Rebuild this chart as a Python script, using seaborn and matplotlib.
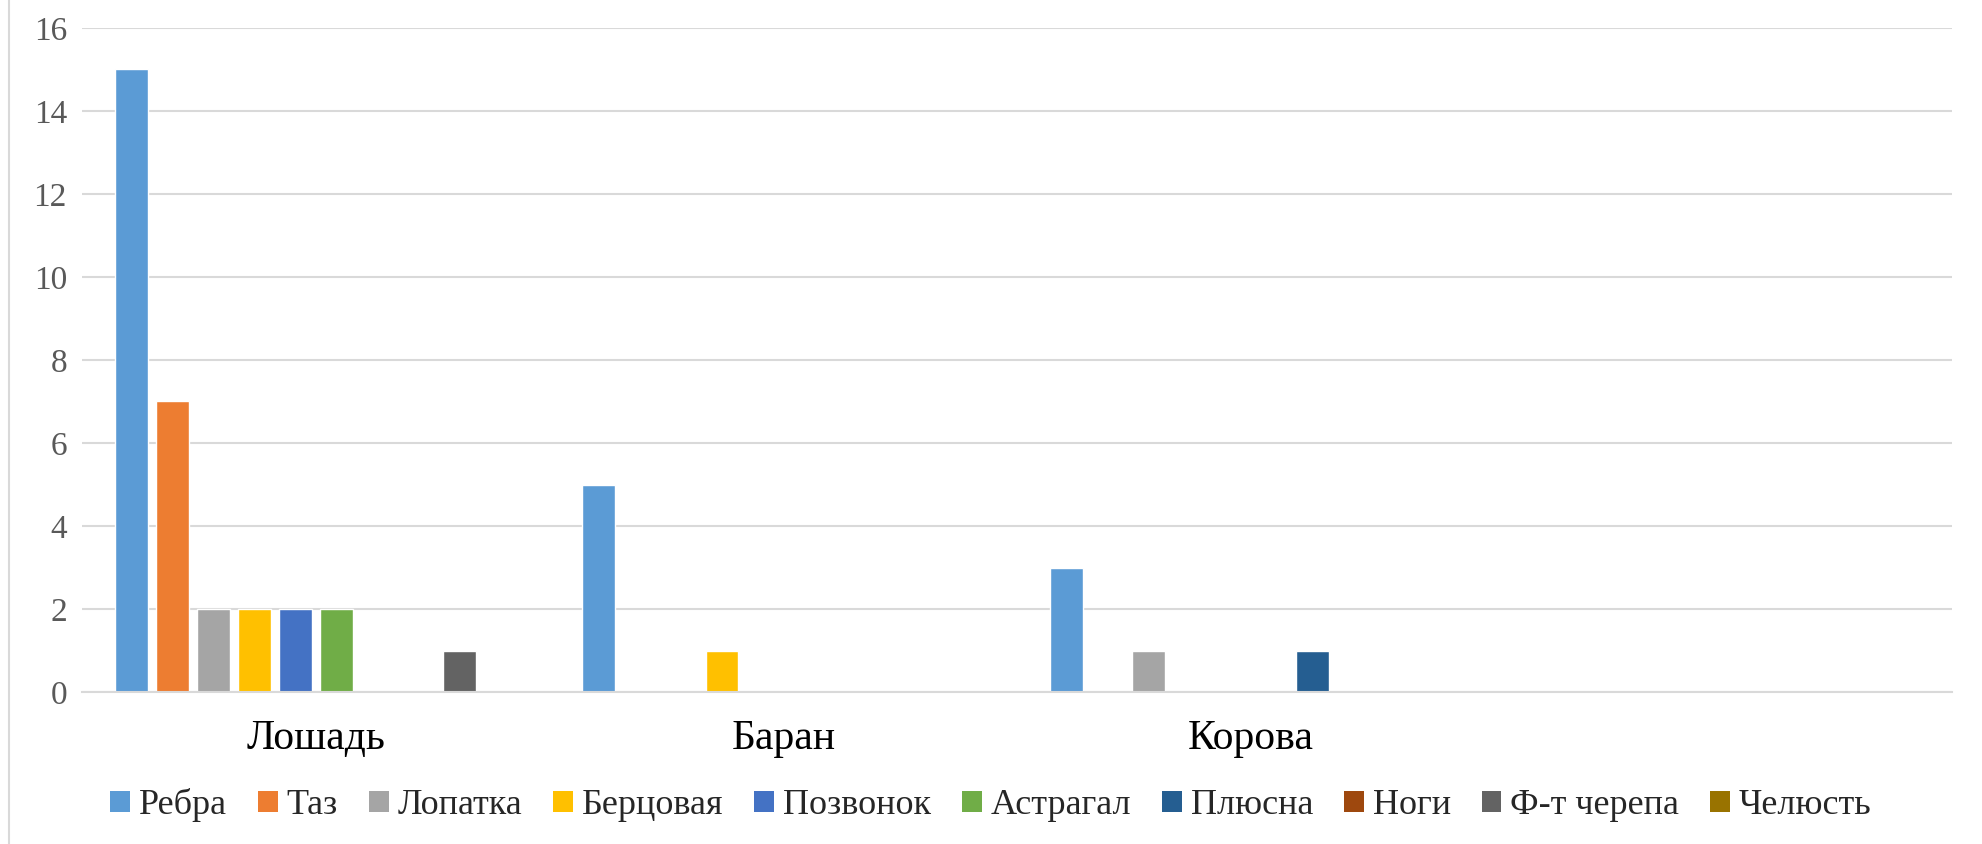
import matplotlib
matplotlib.use("Agg")
import matplotlib.pyplot as plt
from matplotlib.lines import Line2D
from matplotlib.patches import Patch
from matplotlib import font_manager
from matplotlib.font_manager import FontProperties
import seaborn as sns
import pandas as pd

categories = ["Лошадь", "Баран", "Корова", ""]
series = ["Ребра", "Таз", "Лопатка", "Берцовая", "Позвонок", "Астрагал",
          "Плюсна", "Ноги", "Ф-т черепа", "Челюсть"]
ribs = [15, 5, 3, 0]
pelvis = [7, 0, 0, 0]
scapula = [2, 0, 1, 0]
tibia = [2, 1, 0, 0]
vertebra = [2, 0, 0, 0]
astragalus = [2, 0, 0, 0]
metatarsus = [0, 0, 1, 0]
legs = [0, 0, 0, 0]
skull = [1, 0, 0, 0]
jaw = [0, 0, 0, 0]
colors = ["#5B9BD5", "#ED7D31", "#A5A5A5", "#FFC000", "#4472C4", "#70AD47",
          "#255E91", "#9E480E", "#636363", "#997300"]
yticks = [0, 2, 4, 6, 8, 10, 12, 14, 16]

values = [ribs, pelvis, scapula, tibia, vertebra, astragalus, metatarsus, legs, skull, jaw]
rows = []
for s, vals in zip(series, values):
    for c, v in zip(categories, vals):
        rows.append({"cat": c, "series": s, "value": v})
df = pd.DataFrame(rows)

sns.set_theme(style="white")

# locate a regular Times-like serif font file with Cyrillic glyphs
serif_path = None
for suffix in ["LiberationSerif-Regular.ttf", "FreeSerif.ttf"]:
    for f in font_manager.fontManager.ttflist:
        if f.fname.endswith(suffix):
            serif_path = f.fname
            break
    if serif_path is not None:
        break
plt.rcParams['font.family'] = ['Liberation Serif', 'FreeSerif', 'DejaVu Serif']


def fp(size):
    if serif_path is not None:
        return FontProperties(fname=serif_path, size=size)
    return FontProperties(family=['Liberation Serif', 'FreeSerif', 'DejaVu Serif'], size=size)


fig = plt.figure(figsize=(19.82, 8.44), dpi=100)
ax = fig.add_axes([0.0415, 0.18, 0.9435, 0.787])

sns.barplot(data=df, x="cat", y="value", hue="series", order=categories,
            hue_order=series, palette=colors, width=0.878, gap=0.2,
            saturation=1, ax=ax, legend=False, errorbar=None)

ax.set_ylim(0, 16)
ax.set_xlim(-0.5, len(categories) - 0.5)
ax.set_yticks(yticks)
ax.set_yticklabels([str(t) for t in yticks], color="#595959", fontproperties=fp(24))
ax.set_xticks(range(len(categories)))
ax.set_xticklabels(categories, color="#000000", fontproperties=fp(30))
ax.tick_params(axis="x", length=0, pad=20)
ax.tick_params(axis="y", length=0, pad=11)
ax.grid(axis="y", color="#D9D9D9", linewidth=1.5)
ax.set_axisbelow(True)
for side in ["top", "right", "left"]:
    ax.spines[side].set_visible(False)
ax.spines["bottom"].set_color("#D9D9D9")
ax.spines["bottom"].set_linewidth(1.5)
ax.set_xlabel("")
ax.set_ylabel("")

handles = [Patch(facecolor=c, edgecolor="none") for c in colors]
fig.legend(handles, series, loc="center", bbox_to_anchor=(0.5, 0.046), ncol=10,
           frameon=False, prop=fp(26), handlelength=0.55, handleheight=0.55,
           handletextpad=0.25, columnspacing=0.85)

fig.add_artist(Line2D([0.0045, 0.0045], [0, 1], transform=fig.transFigure,
                      color="#D9D9D9", linewidth=1.5))

fig.savefig("out.png", dpi=100, facecolor="white")
